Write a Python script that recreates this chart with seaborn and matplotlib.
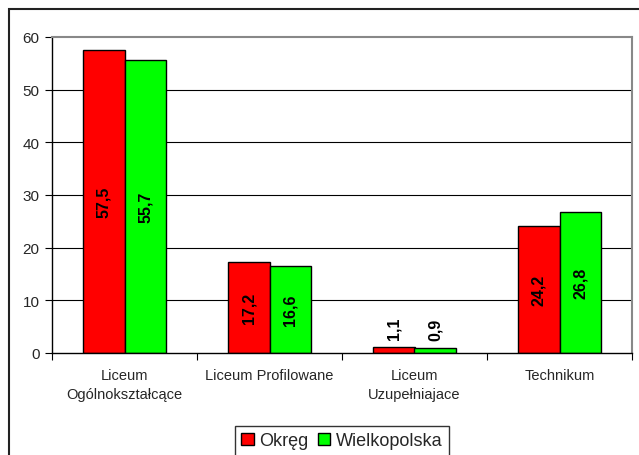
import matplotlib
matplotlib.use("Agg")
import matplotlib.pyplot as plt
import pandas as pd
import seaborn as sns
from matplotlib.patches import Rectangle

# school types and share of pupils (%) for the district and the region
categories = ["Liceum\nOgólnokształcące", "Liceum Profilowane",
              "Liceum\nUzupełniajace", "Technikum"]
okreg = [57.5, 17.2, 1.1, 24.2]
wielkopolska = [55.7, 16.6, 0.9, 26.8]
series = ["Okręg", "Wielkopolska"]
colors = ["#FF0000", "#00FF00"]
y_ticks = [0, 10, 20, 30, 40, 50, 60]

df = pd.DataFrame({
    "typ": categories * 2,
    "seria": [series[0]] * 4 + [series[1]] * 4,
    "wartosc": okreg + wielkopolska,
})

sns.set_theme(style="white")
plt.rcParams["font.family"] = ["Liberation Sans", "DejaVu Sans"]

fig = plt.figure(figsize=(6.39, 4.56), dpi=100)
ax = fig.add_axes([52 / 639, 102 / 456, 580 / 639, 316 / 456])

sns.barplot(data=df, x="typ", y="wartosc", hue="seria", order=categories,
            hue_order=series, palette=colors, width=0.575, saturation=1,
            edgecolor="black", linewidth=1, ax=ax, legend=True)

ax.set_ylim(0, 60)
ax.set_xlim(-0.5, 3.5)
ax.set_yticks(y_ticks)
ax.set_yticklabels([str(t) for t in y_ticks], fontsize=11)
ax.set_xlabel("")
ax.set_ylabel("")
for t in y_ticks[1:-1]:
    ax.axhline(t, color="black", lw=0.8, zorder=0)

# x ticks between groups
ax.set_xticks([-0.5, 0.5, 1.5, 2.5, 3.5], minor=True)
ax.set_xticks(range(4))
ax.set_xticklabels(categories, fontsize=10.5, linespacing=1.45)
ax.tick_params(axis="x", which="major", length=0, pad=11)
ax.tick_params(axis="x", which="minor", length=5, width=0.8, color="black",
               direction="out", bottom=True)
ax.tick_params(axis="y", length=5, width=0.8, color="black", direction="out",
               left=True, pad=4)

for side in ["left", "bottom"]:
    ax.spines[side].set_color("black")
    ax.spines[side].set_linewidth(1)
for side in ["top", "right"]:
    ax.spines[side].set_color("#888888")
    ax.spines[side].set_linewidth(1.5)

# value labels
for container in ax.containers:
    for bar in container:
        v = bar.get_height()
        x = bar.get_x() + bar.get_width() / 2
        txt = f"{v:.1f}".replace(".", ",")
        if v > 5:
            ax.text(x, v / 2, txt, rotation=90, ha="center", va="center",
                    fontsize=11.5, fontweight="bold", color="black")
        else:
            ax.annotate(txt, (x, v), xytext=(0, 6), textcoords="offset points",
                        rotation=90, ha="center", va="bottom",
                        fontsize=11.5, fontweight="bold", color="black")

handles, labels = ax.get_legend_handles_labels()
ax.get_legend().remove()
leg = fig.legend(handles, labels, loc="upper center",
                 bbox_to_anchor=(342 / 639, 1 - 427 / 456), ncol=2,
                 fontsize=13, frameon=True, fancybox=False, handlelength=0.7,
                 handleheight=0.7, handletextpad=0.3, columnspacing=0.5,
                 borderpad=0.35, edgecolor="black", borderaxespad=0)
leg.get_frame().set_linewidth(1)

# outer chart border (cropped on the right and bottom)
fig.patches.append(Rectangle((9 / 639, -0.1), 1.2, 1.1 - 10 / 456,
                             transform=fig.transFigure, fill=False,
                             edgecolor="#222222", lw=1.5))

fig.savefig("out.png", dpi=100)
